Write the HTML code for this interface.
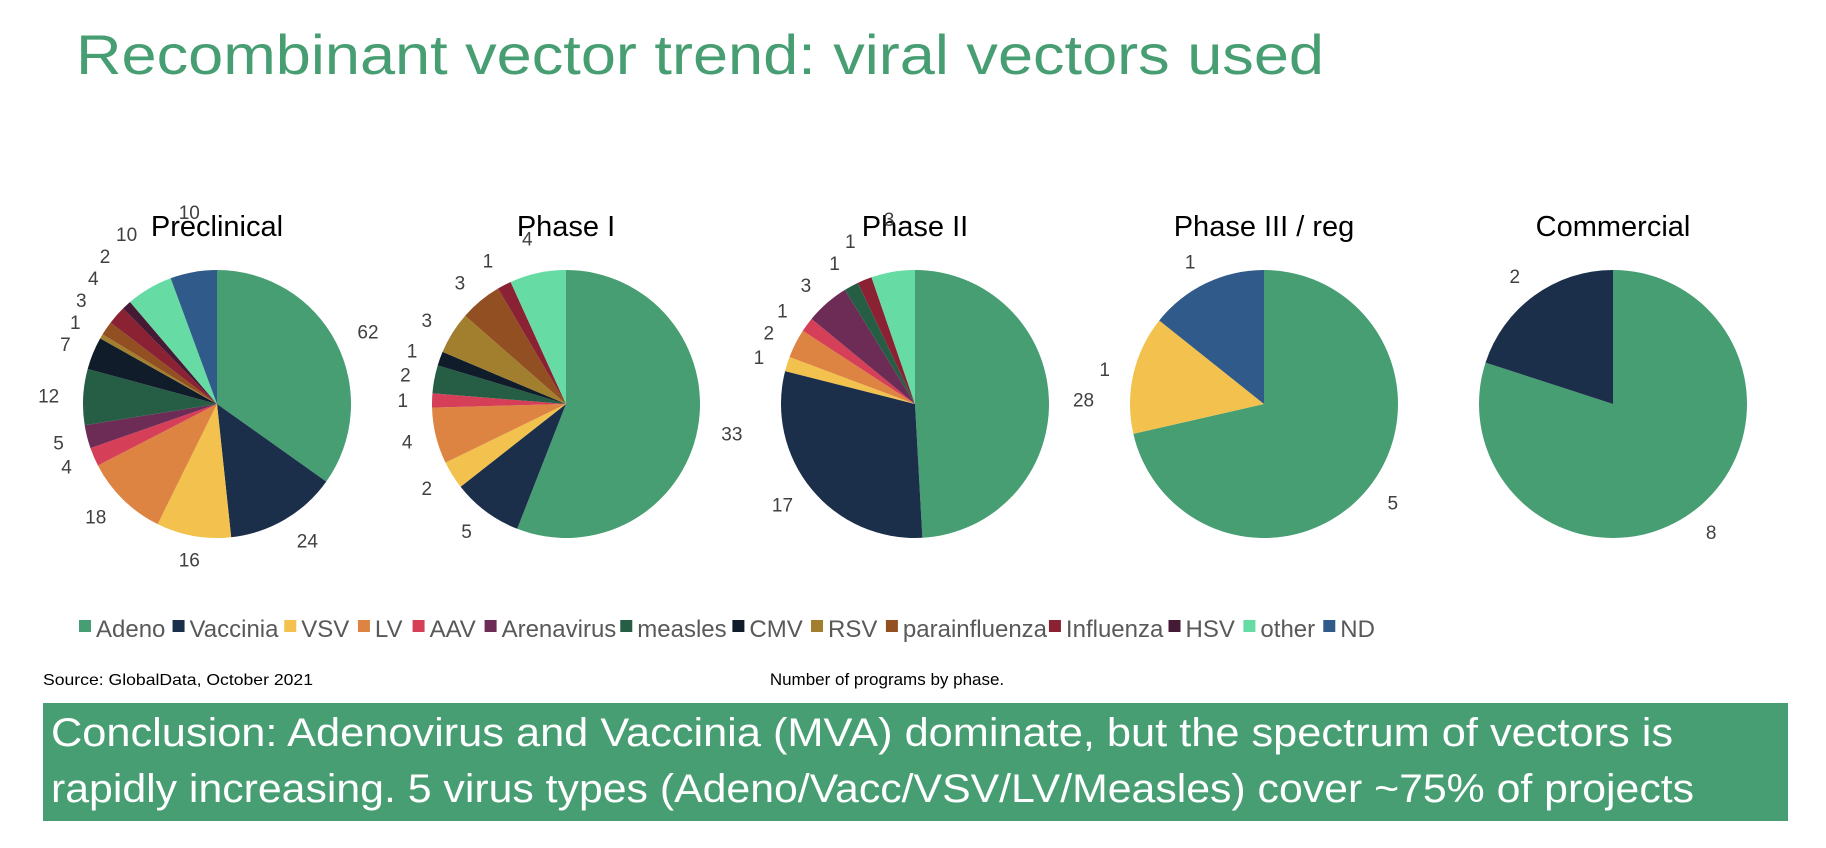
<!DOCTYPE html>
<html><head><meta charset="utf-8"><style>
body{margin:0;background:#fff;}
svg{display:block;font-family:"Liberation Sans",sans-serif;}
</style></head><body>
<svg id="c" width="1826" height="848" viewBox="0 0 1826 848">
<text x="76" y="74" font-size="56" fill="#479e72" textLength="1248" lengthAdjust="spacingAndGlyphs">Recombinant vector trend: viral vectors used</text>
<g id="pies"></g>
<g id="legend"></g>
<text x="43" y="685" font-size="16" fill="#000" textLength="270" lengthAdjust="spacingAndGlyphs">Source: GlobalData, October 2021</text>
<text x="887" y="685" font-size="17" fill="#000" text-anchor="middle">Number of programs by phase.</text>
<rect x="43" y="703" width="1745" height="118" fill="#479e72"/>
<text x="51" y="746" font-size="40" fill="#fff" textLength="1622" lengthAdjust="spacingAndGlyphs">Conclusion: Adenovirus and Vaccinia (MVA) dominate, but the spectrum of vectors is</text>
<text x="51" y="802" font-size="40" fill="#fff" textLength="1643" lengthAdjust="spacingAndGlyphs">rapidly increasing. 5 virus types (Adeno/Vacc/VSV/LV/Measles) cover ~75% of projects</text>
</svg>
<script>
const categories=["Adeno","Vaccinia","VSV","LV","AAV","Arenavirus","measles","CMV","RSV","parainfluenza","Influenza","HSV","other","ND"];
const colors=["#479e72","#1b2f4a","#f2c14e","#de8442","#d63f58","#6c2c55","#255e45","#101c2a","#a27f2e","#924f22","#8a2234","#441a35","#66dca4","#305a89"];
const phases=["Preclinical","Phase I","Phase II","Phase III / reg","Commercial"];
const preclinical=[62,24,16,18,4,5,12,7,1,3,4,2,10,10];
const phase1=[33,5,2,4,1,0,2,1,3,3,1,0,4,0];
const phase2=[28,17,1,2,1,3,1,0,0,0,1,0,3,0];
const phase3=[5,0,1,0,0,0,0,0,0,0,0,0,0,1];
const commercial=[8,2,0,0,0,0,0,0,0,0,0,0,0,0];
const series=[preclinical,phase1,phase2,phase3,commercial];

const NS="http://www.w3.org/2000/svg";
const pieG=document.getElementById('pies');
const R=134, cy=404, x0=217, dx=349;
function mk(tag,attrs,parent){const e=document.createElementNS(NS,tag);for(const k in attrs)e.setAttribute(k,attrs[k]);parent.appendChild(e);return e;}
series.forEach((vals,pi)=>{
  const cx=x0+dx*pi;
  const g=mk('g',{},pieG);
  
  
  const t=mk('text',{x:cx,y:236,'font-size':29,'text-anchor':'middle',fill:'#000'},g);
  t.textContent=phases[pi];
  
  
  const total=vals.reduce((a,b)=>a+b,0);
  let a=0;const labels=[];
  vals.forEach((v,i)=>{
    if(!v)return;
    const a1=a+v/total*2*Math.PI;
    const p=(ang,r)=>[cx+r*Math.sin(ang),cy-r*Math.cos(ang)];
    let el;
    if(v===total){el=mk('circle',{cx:cx,cy:cy,r:R,fill:colors[i]},g);}
    else{
      const [sx,sy]=p(a,R),[ex,ey]=p(a1,R);
      const large=(a1-a)>Math.PI?1:0;
      el=mk('path',{d:`M${cx},${cy}L${sx},${sy}A${R},${R} 0 ${large} 1 ${ex},${ey}Z`,fill:colors[i]},g);
    }
    
    
    const m=(a+a1)/2;const [lx,ly]=p(m,R+24);
    labels.push({x:lx,y:ly,v:v,m:m});
    a=a1;
  });
  // de-overlap left-side labels
  const left=labels.filter(l=>Math.sin(l.m)<-0.05).sort((p,q)=>q.y-p.y);
  for(let k=1;k<left.length;k++){if(left[k-1].y-left[k].y<22){left[k].y=left[k-1].y-22;}}
  labels.forEach(l=>{
    const s=Math.sin(l.m);
    const anc=s>0.2?'start':(s<-0.2?'end':'middle');
    const lt=mk('text',{x:l.x,y:l.y+7,'font-size':19,fill:'#404040','text-anchor':anc},g);
    lt.textContent=l.v;
    
    
  });
});
// legend
const lg=document.getElementById('legend');
let lx=79;
categories.forEach((c,i)=>{
  const g=mk('g',{},lg);
  
  
  mk('rect',{x:lx,y:620,width:12,height:12,fill:colors[i]},g);
  const t=mk('text',{x:lx+17,y:637,'font-size':24,fill:'#595959'},g);
  t.textContent=c;
  lx+=17+t.getComputedTextLength()*0.93+12;
});
</script>
</body></html>
